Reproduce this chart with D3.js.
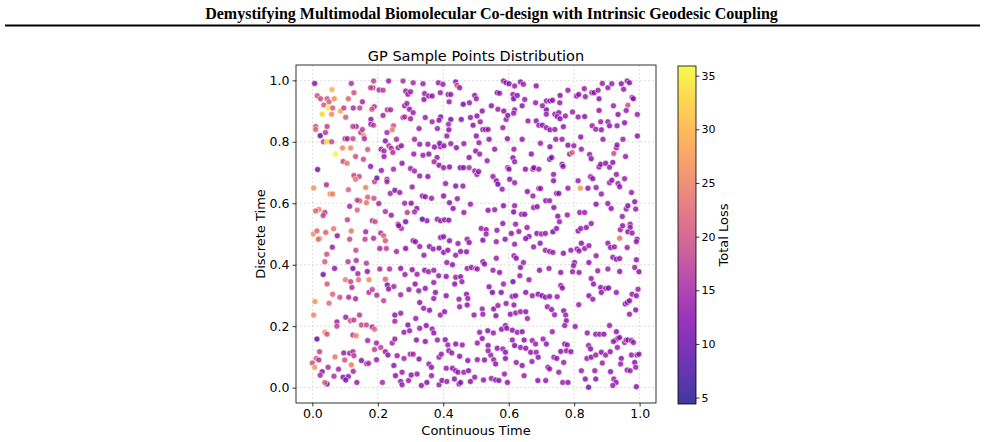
<!DOCTYPE html>
<html>
<head>
<meta charset="utf-8">
<script src="https://cdn.jsdelivr.net/npm/d3@7"></script>
<style>
  body { margin: 0; background: #fff; }
  svg { display: block; }
</style>
</head>
<body>
<div id="chart"></div>
<script>
// [continuous time, discrete time, total loss], grouped by x band
const band0 = [
  [0.007,0.99,12],[0.015,0.95,20],[0.025,0.94,19],[0.045,0.94,20],[0.051,0.93,22],[0.06,0.97,30],
  [0.067,0.94,27],[0.035,0.92,21],[0.048,0.91,35],[0.03,0.89,33],[0.059,0.89,26],[0.062,0.91,21],
  [0.086,0.90,29],[0.096,0.91,18],[0.01,0.85,20],[0.01,0.84,22],[0.045,0.85,18],[0.024,0.82,9],
  [0.034,0.80,17],[0.045,0.80,34],[0.059,0.80,19],[0.04,0.83,17],[0.071,0.76,36],[0.092,0.78,26],
  [0.10,0.81,16],[0.016,0.71,11],[0.043,0.66,16],[0.004,0.65,27],[0.054,0.63,27],[0.062,0.63,25],
  [0.02,0.58,26],[0.01,0.575,22],[0.038,0.57,17],[0.033,0.56,18],[0.003,0.50,27],[0.014,0.51,22],
  [0.022,0.485,25],[0.041,0.505,22],[0.065,0.517,24],[0.061,0.457,14],[0.076,0.494,13],[0.018,0.483,24],
  [0.044,0.434,20],[0.038,0.41,21],[0.068,0.388,13],[0.033,0.368,11],[0.045,0.337,21],[0.062,0.304,22],
  [0.084,0.294,20],[0.051,0.275,23],[0.008,0.28,27],[0.004,0.236,26],[0.075,0.214,14],[0.075,0.20,18],
  [0.038,0.18,28],[0.045,0.174,20],[0.014,0.158,9],[0.022,0.117,18],[0.012,0.095,20],[0.0,0.08,20],
  [0.007,0.066,28],[0.02,0.09,17],[0.03,0.052,13],[0.024,0.04,16],[0.048,0.066,16],[0.045,0.012,10],
  [0.038,0.017,22],[0.069,0.10,24],[0.08,0.06,15],[0.096,0.113,14],[0.094,0.034,12],[0.099,0.09,20],
  [0.066,0.037,16]
];
const band1 = [
  [0.107,0.81,15],[0.117,0.78,26],[0.102,0.88,21],[0.11,0.94,22],[0.125,0.91,16],[0.127,0.96,20],
  [0.119,0.99,16],[0.134,0.85,15],[0.124,0.85,18],[0.145,0.91,18],[0.153,0.93,15],[0.148,0.83,16],
  [0.157,0.82,27],[0.153,0.84,18],[0.169,0.775,21],[0.179,0.873,13],[0.179,0.857,12],[0.187,0.854,18],
  [0.189,0.914,16],[0.182,0.906,20],[0.187,0.998,18],[0.185,0.976,17],[0.178,0.976,18],[0.159,0.81,16],
  [0.124,0.81,19],[0.094,0.736,19],[0.106,0.73,24],[0.132,0.752,20],[0.156,0.743,19],[0.178,0.72,13],
  [0.127,0.69,18],[0.143,0.687,19],[0.132,0.678,24],[0.163,0.651,25],[0.19,0.67,18],[0.197,0.682,11],
  [0.11,0.644,22],[0.144,0.608,18],[0.137,0.61,19],[0.169,0.62,22],[0.165,0.602,24],[0.188,0.616,20],
  [0.114,0.59,15],[0.137,0.578,22],[0.107,0.546,18],[0.163,0.507,15],[0.183,0.543,17],[0.192,0.54,20],
  [0.119,0.51,24],[0.114,0.483,19],[0.161,0.483,18],[0.187,0.486,16],[0.133,0.447,19],[0.109,0.41,17],
  [0.134,0.414,16],[0.165,0.405,17],[0.124,0.388,11],[0.139,0.371,15],[0.101,0.351,25],[0.117,0.345,18],
  [0.141,0.351,23],[0.173,0.351,26],[0.168,0.378,13],[0.111,0.294,16],[0.121,0.326,16],[0.132,0.289,15],
  [0.173,0.31,16],[0.183,0.319,18],[0.197,0.301,16],[0.102,0.229,14],[0.116,0.218,20],[0.127,0.22,18],
  [0.144,0.236,17],[0.15,0.204,19],[0.165,0.204,19],[0.183,0.197,14],[0.19,0.19,23],[0.124,0.171,16],
  [0.134,0.169,26],[0.114,0.112,14],[0.124,0.117,16],[0.127,0.104,17],[0.15,0.088,12],[0.166,0.078,13],
  [0.172,0.079,17],[0.119,0.074,25],[0.125,0.053,15],[0.136,0.017,14],[0.11,0.036,13],[0.102,0.025,11],
  [0.196,0.091,14],[0.19,0.124,18],[0.169,0.153,15]
];
const band2 = [
  [0.204,0.969,15],[0.216,0.968,17],[0.233,0.998,14],[0.216,0.886,15],[0.229,0.904,17],[0.239,0.904,15],
  [0.248,0.852,20],[0.244,0.839,25],[0.228,0.83,15],[0.223,0.803,13],[0.257,0.808,15],[0.21,0.776,14],
  [0.219,0.77,15],[0.219,0.752,14],[0.234,0.787,16],[0.241,0.779,16],[0.246,0.765,16],[0.262,0.781,15],
  [0.272,0.787,13],[0.277,0.879,15],[0.282,0.881,17],[0.277,0.998,16],[0.285,0.965,14],[0.292,0.955,13],
  [0.282,0.917,14],[0.289,0.925,15],[0.297,0.906,13],[0.3,0.875,14],[0.211,0.707,14],[0.228,0.678,15],
  [0.238,0.632,15],[0.252,0.642,12],[0.267,0.635,14],[0.274,0.73,13],[0.248,0.711,15],[0.228,0.67,15],
  [0.203,0.599,15],[0.223,0.573,16],[0.241,0.561,14],[0.262,0.532,14],[0.272,0.518,15],[0.264,0.527,13],
  [0.285,0.54,11],[0.282,0.6,15],[0.29,0.57,17],[0.209,0.503,16],[0.218,0.494,22],[0.223,0.478,21],
  [0.206,0.453,15],[0.226,0.453,18],[0.257,0.443,15],[0.285,0.453,12],[0.206,0.386,15],[0.236,0.386,16],
  [0.27,0.388,13],[0.283,0.368,14],[0.223,0.353,22],[0.229,0.334,11],[0.249,0.329,15],[0.233,0.321,13],
  [0.218,0.283,18],[0.27,0.302,15],[0.295,0.319,14],[0.252,0.236,13],[0.252,0.216,15],[0.27,0.242,14],
  [0.292,0.204,13],[0.28,0.18,14],[0.297,0.185,14],[0.196,0.145,15],[0.209,0.131,18],[0.223,0.117,14],
  [0.244,0.145,15],[0.252,0.158,14],[0.231,0.106,13],[0.259,0.104,14],[0.28,0.095,15],[0.299,0.109,15],
  [0.249,0.072,13],[0.274,0.05,14],[0.254,0.039,13],[0.27,0.02,13],[0.274,0.009,14],[0.214,0.017,15],
  [0.294,0.023,14],[0.302,0.041,13]
];
const band3 = [
  [0.308,0.895,14],[0.308,0.992,15],[0.3,0.963,14],[0.338,0.989,14],[0.343,0.957,14],[0.341,0.938,13],
  [0.355,0.949,14],[0.366,0.949,13],[0.345,0.879,14],[0.366,0.865,15],[0.385,0.992,14],[0.391,0.96,14],
  [0.392,0.881,11],[0.387,0.87,13],[0.382,0.843,14],[0.326,0.843,14],[0.312,0.808,15],[0.328,0.792,14],
  [0.353,0.792,14],[0.373,0.783,13],[0.391,0.784,14],[0.389,0.795,12],[0.31,0.76,14],[0.338,0.756,14],
  [0.356,0.76,13],[0.381,0.749,14],[0.372,0.735,15],[0.387,0.724,13],[0.3,0.713,14],[0.312,0.705,15],
  [0.328,0.689,14],[0.353,0.687,13],[0.305,0.653,14],[0.302,0.6,13],[0.319,0.583,12],[0.312,0.572,16],
  [0.336,0.624,14],[0.345,0.621,13],[0.364,0.616,14],[0.35,0.543,13],[0.336,0.548,9],[0.382,0.548,13],
  [0.392,0.543,14],[0.308,0.478,13],[0.315,0.475,13],[0.328,0.459,14],[0.341,0.431,14],[0.358,0.459,13],
  [0.369,0.451,14],[0.387,0.454,13],[0.401,0.44,13],[0.305,0.384,13],[0.32,0.369,14],[0.343,0.382,13],
  [0.355,0.377,14],[0.371,0.382,14],[0.386,0.364,14],[0.314,0.337,13],[0.325,0.315,14],[0.345,0.323,13],
  [0.371,0.342,14],[0.376,0.31,13],[0.328,0.277,13],[0.34,0.258,14],[0.358,0.252,13],[0.371,0.29,14],
  [0.391,0.236,14],[0.316,0.225,14],[0.328,0.193,14],[0.348,0.202,13],[0.366,0.191,14],[0.371,0.178,13],
  [0.382,0.155,14],[0.345,0.15,13],[0.318,0.155,13],[0.308,0.109,15],[0.326,0.093,13],[0.356,0.077,14],
  [0.364,0.066,13],[0.387,0.099,14],[0.394,0.109,14],[0.32,0.044,14],[0.333,0.007,13],[0.35,0.017,12],
  [0.364,0.039,14],[0.387,0.009,14],[0.396,0.023,13]
];
const band4 = [
  [0.399,0.987,14],[0.415,0.954,13],[0.423,0.954,14],[0.418,0.93,14],[0.438,0.995,12],[0.442,0.984,20],
  [0.45,0.976,14],[0.423,0.873,11],[0.416,0.857,15],[0.417,0.839,13],[0.455,0.873,12],[0.461,0.922,11],
  [0.48,0.927,14],[0.483,0.879,14],[0.491,0.854,13],[0.496,0.951,13],[0.501,0.94,14],[0.402,0.787,13],
  [0.411,0.819,14],[0.423,0.794,14],[0.44,0.781,13],[0.463,0.794,14],[0.479,0.749,13],[0.452,0.716,11],
  [0.462,0.716,12],[0.479,0.716,16],[0.496,0.705,14],[0.401,0.716,14],[0.419,0.718,13],[0.438,0.656,13],
  [0.46,0.656,14],[0.407,0.664,14],[0.401,0.624,13],[0.419,0.602,13],[0.43,0.583,13],[0.443,0.615,14],
  [0.483,0.597,14],[0.463,0.57,14],[0.404,0.546,14],[0.417,0.545,13],[0.392,0.489,13],[0.401,0.491,13],
  [0.419,0.478,13],[0.445,0.469,14],[0.473,0.483,14],[0.479,0.472,13],[0.414,0.447,13],[0.438,0.431,14],
  [0.453,0.443,13],[0.471,0.442,13],[0.411,0.407,14],[0.428,0.4,13],[0.438,0.359,14],[0.453,0.361,13],
  [0.473,0.388,14],[0.486,0.391,13],[0.499,0.388,16],[0.409,0.362,13],[0.435,0.337,13],[0.457,0.345,14],
  [0.471,0.304,13],[0.448,0.288,14],[0.409,0.299,13],[0.475,0.29,14],[0.404,0.247,13],[0.45,0.263,14],
  [0.473,0.269,13],[0.494,0.236,14],[0.406,0.156,13],[0.414,0.139,14],[0.438,0.142,13],[0.458,0.139,14],
  [0.417,0.12,13],[0.426,0.113,14],[0.45,0.102,13],[0.475,0.088,13],[0.409,0.063,14],[0.428,0.063,13],
  [0.438,0.055,12],[0.445,0.05,14],[0.463,0.05,14],[0.477,0.055,13],[0.434,0.028,13],[0.448,0.012,13],
  [0.453,0.017,13],[0.411,0.02,14],[0.483,0.02,13],[0.496,0.034,14]
];
const band5 = [
  [0.503,0.884,13],[0.513,0.865,14],[0.519,0.9,13],[0.521,0.84,14],[0.529,0.84,13],[0.537,0.84,14],
  [0.501,0.819,13],[0.509,0.797,14],[0.499,0.77,13],[0.511,0.76,14],[0.54,0.808,13],[0.547,0.917,13],
  [0.567,0.906,14],[0.585,0.9,13],[0.592,0.873,14],[0.565,0.96,11],[0.572,0.958,14],[0.584,0.998,14],
  [0.592,0.992,13],[0.582,0.846,14],[0.596,0.81,13],[0.557,0.776,14],[0.534,0.738,14],[0.503,0.694,14],
  [0.508,0.703,13],[0.552,0.687,14],[0.562,0.673,13],[0.567,0.662,11],[0.58,0.646,14],[0.597,0.716,14],
  [0.537,0.577,13],[0.557,0.579,14],[0.584,0.592,13],[0.516,0.518,14],[0.531,0.514,13],[0.531,0.5,14],
  [0.564,0.512,14],[0.582,0.534,13],[0.521,0.48,12],[0.562,0.475,14],[0.589,0.483,13],[0.504,0.386,15],
  [0.521,0.41,14],[0.526,0.402,13],[0.552,0.382,14],[0.562,0.421,14],[0.572,0.375,13],[0.584,0.337,14],
  [0.54,0.328,13],[0.55,0.31,11],[0.577,0.31,12],[0.592,0.274,14],[0.519,0.256,14],[0.554,0.256,13],
  [0.567,0.267,14],[0.521,0.239,14],[0.561,0.234,13],[0.511,0.18,14],[0.536,0.185,13],[0.553,0.178,14],
  [0.578,0.19,13],[0.59,0.202,14],[0.594,0.193,13],[0.504,0.145,14],[0.519,0.16,13],[0.537,0.137,13],
  [0.545,0.106,14],[0.537,0.12,14],[0.565,0.128,13],[0.582,0.126,14],[0.59,0.115,13],[0.504,0.091,14],
  [0.526,0.09,13],[0.554,0.091,14],[0.56,0.077,13],[0.59,0.095,13],[0.523,0.025,13],[0.547,0.03,14],
  [0.56,0.025,12],[0.57,0.023,13],[0.587,0.044,14],[0.596,0.017,13]
];
const band6 = [
  [0.601,0.989,13],[0.618,0.982,14],[0.636,0.995,13],[0.645,0.987,14],[0.613,0.954,14],[0.615,0.94,11],
  [0.626,0.951,13],[0.649,0.938,14],[0.641,0.917,13],[0.618,0.904,14],[0.615,0.893,14],[0.597,0.886,13],
  [0.659,0.868,14],[0.616,0.776,14],[0.641,0.808,13],[0.613,0.748,13],[0.618,0.735,14],[0.601,0.711,14],
  [0.651,0.711,13],[0.674,0.711,14],[0.669,0.76,13],[0.684,0.868,13],[0.692,0.854,14],[0.682,0.927,14],
  [0.684,0.982,13],[0.603,0.678,13],[0.618,0.667,14],[0.657,0.638,13],[0.674,0.624,14],[0.692,0.648,13],
  [0.618,0.592,14],[0.615,0.572,11],[0.639,0.564,14],[0.649,0.564,13],[0.676,0.586,14],[0.687,0.589,13],
  [0.621,0.532,14],[0.608,0.502,13],[0.631,0.508,14],[0.656,0.521,14],[0.662,0.492,13],[0.652,0.485,12],
  [0.686,0.502,13],[0.618,0.467,14],[0.676,0.458,14],[0.616,0.429,14],[0.623,0.421,13],[0.645,0.407,14],
  [0.636,0.391,13],[0.613,0.345,11],[0.634,0.364,14],[0.662,0.351,14],[0.694,0.382,13],[0.611,0.297,14],
  [0.621,0.299,13],[0.652,0.31,13],[0.672,0.299,14],[0.69,0.304,13],[0.616,0.269,14],[0.605,0.239,13],
  [0.621,0.243,14],[0.636,0.247,14],[0.652,0.247,13],[0.657,0.225,14],[0.611,0.187,13],[0.626,0.18,14],
  [0.641,0.182,13],[0.672,0.153,14],[0.611,0.155,14],[0.647,0.155,13],[0.618,0.137,11],[0.636,0.131,14],
  [0.652,0.128,13],[0.682,0.142,14],[0.667,0.115,13],[0.684,0.115,14],[0.69,0.099,13],[0.623,0.082,14],
  [0.641,0.072,13],[0.671,0.085,14],[0.647,0.039,14],[0.689,0.023,13]
];
const band7 = [
  [0.715,0.933,14],[0.726,0.933,13],[0.715,0.904,11],[0.715,0.89,14],[0.703,0.917,14],[0.734,0.935,13],
  [0.741,0.89,14],[0.753,0.895,13],[0.748,0.882,14],[0.757,0.875,13],[0.756,0.927,14],[0.757,0.951,13],
  [0.781,0.968,14],[0.773,0.884,14],[0.703,0.854,13],[0.715,0.846,14],[0.726,0.839,13],[0.741,0.84,14],
  [0.767,0.849,13],[0.795,0.897,14],[0.697,0.795,14],[0.726,0.784,13],[0.744,0.808,14],[0.763,0.808,14],
  [0.781,0.789,13],[0.725,0.743,13],[0.731,0.749,11],[0.763,0.727,14],[0.766,0.72,13],[0.786,0.76,14],
  [0.794,0.765,22],[0.677,0.716,13],[0.692,0.711,14],[0.737,0.694,14],[0.737,0.673,13],[0.746,0.632,14],
  [0.753,0.632,13],[0.697,0.648,14],[0.781,0.649,14],[0.713,0.608,13],[0.725,0.608,14],[0.738,0.586,13],
  [0.779,0.562,14],[0.75,0.558,13],[0.755,0.54,14],[0.735,0.507,11],[0.746,0.518,13],[0.7,0.5,14],
  [0.712,0.502,14],[0.696,0.47,13],[0.712,0.447,14],[0.725,0.443,13],[0.735,0.44,14],[0.767,0.437,13],
  [0.79,0.447,14],[0.723,0.388,14],[0.759,0.375,13],[0.795,0.377,14],[0.759,0.332,14],[0.764,0.324,13],
  [0.702,0.299,11],[0.712,0.294,14],[0.725,0.297,13],[0.748,0.296,14],[0.718,0.263,14],[0.731,0.254,13],
  [0.74,0.237,14],[0.768,0.25,13],[0.774,0.236,14],[0.776,0.218,13],[0.771,0.202,14],[0.705,0.158,14],
  [0.715,0.142,13],[0.733,0.182,14],[0.771,0.142,13],[0.779,0.139,14],[0.759,0.118,13],[0.776,0.12,14],
  [0.79,0.117,13],[0.738,0.099,14],[0.747,0.095,13],[0.768,0.082,14],[0.72,0.066,12],[0.725,0.061,14],
  [0.753,0.05,14],[0.713,0.023,13],[0.765,0.017,14],[0.781,0.017,13]
];
const band8 = [
  [0.807,0.949,14],[0.814,0.954,13],[0.834,0.947,14],[0.831,0.973,14],[0.854,0.96,14],[0.861,0.96,13],
  [0.873,0.968,14],[0.876,0.94,13],[0.886,0.99,14],[0.812,0.881,14],[0.832,0.882,13],[0.855,0.852,14],
  [0.876,0.902,13],[0.881,0.865,14],[0.883,0.839,13],[0.866,0.841,14],[0.799,0.787,14],[0.82,0.816,13],
  [0.822,0.776,14],[0.847,0.759,14],[0.852,0.745,13],[0.876,0.718,14],[0.881,0.727,13],[0.888,0.808,14],
  [0.896,0.73,13],[0.812,0.673,14],[0.819,0.649,28],[0.842,0.649,13],[0.85,0.686,14],[0.857,0.68,13],
  [0.867,0.651,14],[0.883,0.63,14],[0.867,0.597,13],[0.817,0.57,14],[0.832,0.57,14],[0.812,0.51,13],
  [0.82,0.518,14],[0.837,0.521,13],[0.852,0.534,14],[0.809,0.451,13],[0.815,0.445,14],[0.822,0.47,13],
  [0.832,0.453,14],[0.845,0.462,14],[0.801,0.407,13],[0.798,0.397,14],[0.815,0.375,14],[0.845,0.407,13],
  [0.867,0.429,14],[0.852,0.355,14],[0.859,0.337,13],[0.872,0.38,14],[0.881,0.326,13],[0.896,0.323,14],
  [0.814,0.27,14],[0.845,0.299,13],[0.857,0.288,14],[0.883,0.31,13],[0.803,0.199,14],[0.84,0.178,14],
  [0.866,0.174,13],[0.878,0.174,14],[0.891,0.174,13],[0.844,0.137,14],[0.85,0.126,13],[0.839,0.095,14],
  [0.852,0.099,13],[0.866,0.106,14],[0.883,0.115,13],[0.822,0.055,14],[0.863,0.055,14],[0.834,0.028,13],
  [0.844,0.001,11],[0.866,0.028,13],[0.886,0.08,14]
];
const band9 = [
  [0.903,0.976,14],[0.915,0.989,14],[0.944,0.989,13],[0.951,0.971,14],[0.962,0.998,14],[0.969,0.992,13],
  [0.977,0.944,14],[0.981,0.94,13],[0.964,0.919,20],[0.959,0.902,14],[0.934,0.889,13],[0.92,0.917,14],
  [0.903,0.865,14],[0.908,0.852,13],[0.931,0.852,14],[0.954,0.862,13],[0.993,0.889,14],[0.949,0.808,14],
  [0.929,0.781,13],[0.921,0.762,20],[0.931,0.79,14],[0.957,0.752,14],[0.993,0.819,13],[0.908,0.717,14],
  [0.918,0.733,13],[0.929,0.694,14],[0.908,0.667,14],[0.915,0.675,13],[0.934,0.664,14],[0.939,0.654,13],
  [0.954,0.68,14],[0.975,0.635,14],[0.985,0.605,13],[0.988,0.581,14],[0.959,0.581,14],[0.964,0.592,13],
  [0.903,0.599,14],[0.913,0.583,13],[0.947,0.557,14],[0.971,0.532,14],[0.971,0.521,13],[0.941,0.514,14],
  [0.948,0.527,13],[0.964,0.507,13],[0.977,0.503,14],[0.939,0.486,24],[0.903,0.47,14],[0.911,0.456,13],
  [0.923,0.458,14],[0.962,0.456,14],[0.992,0.483,13],[0.99,0.475,14],[0.918,0.424,14],[0.929,0.418,13],
  [0.939,0.42,14],[0.99,0.416,13],[0.985,0.391,14],[0.998,0.377,13],[0.903,0.386,14],[0.939,0.378,13],
  [0.905,0.324,11],[0.929,0.31,14],[0.956,0.272,13],[0.962,0.277,14],[0.969,0.283,13],[0.977,0.304,14],
  [0.99,0.299,13],[0.995,0.32,14],[0.969,0.239,14],[0.988,0.253,13],[0.908,0.202,14],[0.929,0.182,13],
  [0.927,0.155,14],[0.934,0.161,13],[0.939,0.163,14],[0.954,0.147,14],[0.959,0.155,13],[0.964,0.155,14],
  [0.975,0.153,13],[0.981,0.147,14],[0.92,0.15,14],[0.896,0.106,14],[0.91,0.117,13],[0.932,0.131,14],
  [0.944,0.095,13],[0.975,0.106,14],[0.992,0.106,13],[0.998,0.109,14],[0.985,0.082,13],[0.988,0.066,14],
  [0.942,0.077,14],[0.911,0.052,13],[0.921,0.028,14],[0.928,0.017,13],[0.918,0.007,14],[0.962,0.057,13],
  [0.971,0.055,14],[0.99,0.003,13]
];

const xTicks = [0, 0.2, 0.4, 0.6, 0.8, 1.0];
const yTicks = [0, 0.2, 0.4, 0.6, 0.8, 1.0];
const lossTicks = [5, 10, 15, 20, 25, 30, 35];
const lossRange = [4.4, 35.9];

const pageTitle = "Demystifying Multimodal Biomolecular Co-design with Intrinsic Geodesic Coupling";
const chartTitle = "GP Sample Points Distribution";

const samples = [].concat(band0, band1, band2, band3, band4, band5, band6, band7, band8, band9);

const W = 985, H = 442;
const plot = { left: 296, right: 656, top: 65, bottom: 403 };
const cbar = { left: 678, right: 696, top: 66, bottom: 404 };

const svg = d3.select("#chart").append("svg")
    .attr("width", W)
    .attr("height", H)
    .style("font-family", "'DejaVu Sans', sans-serif");

// page header
svg.append("text")
    .attr("x", W / 2 - 1)
    .attr("y", 19)
    .attr("text-anchor", "middle")
    .style("font-family", "'Liberation Serif', 'Times New Roman', serif")
    .style("font-weight", "bold")
    .style("font-size", "16px")
    .text(pageTitle);

svg.append("line")
    .attr("x1", 5).attr("x2", 980)
    .attr("y1", 25.5).attr("y2", 25.5)
    .attr("stroke", "#000")
    .attr("stroke-width", 2);

const x = d3.scaleLinear().domain([-0.05, 1.05]).range([plot.left, plot.right]);
const y = d3.scaleLinear().domain([-0.05, 1.05]).range([plot.bottom, plot.top]);
const color = d3.scaleSequential(d3.interpolatePlasma).domain(lossRange);

// grid
const grid = svg.append("g");
grid.selectAll(".gx").data(xTicks).join("line")
    .attr("x1", d => x(d)).attr("x2", d => x(d))
    .attr("y1", plot.top).attr("y2", plot.bottom)
    .attr("stroke", "#b0b0b0").attr("stroke-width", 0.6)
    .attr("stroke-dasharray", "2,2").attr("opacity", 0.7);
grid.selectAll(".gy").data(yTicks).join("line")
    .attr("y1", d => y(d)).attr("y2", d => y(d))
    .attr("x1", plot.left).attr("x2", plot.right)
    .attr("stroke", "#b0b0b0").attr("stroke-width", 0.6)
    .attr("stroke-dasharray", "2,2").attr("opacity", 0.7);

// points
svg.append("g").selectAll("circle")
    .data(samples)
    .join("circle")
    .attr("cx", d => x(d[0]))
    .attr("cy", d => y(d[1]))
    .attr("r", 3)
    .attr("fill", d => color(d[2]))
    .attr("fill-opacity", 0.8)
    .attr("stroke", "#fff")
    .attr("stroke-opacity", 0.8)
    .attr("stroke-width", 0.7);

// axes
const xAxis = svg.append("g")
    .attr("transform", `translate(0,${plot.bottom})`)
    .call(d3.axisBottom(x).tickValues(xTicks).tickFormat(d3.format(".1f")).tickSize(3.5).tickPadding(3));
const yAxis = svg.append("g")
    .attr("transform", `translate(${plot.left},0)`)
    .call(d3.axisLeft(y).tickValues(yTicks).tickFormat(d3.format(".1f")).tickSize(3.5).tickPadding(3));
[xAxis, yAxis].forEach(g => {
    g.select(".domain").remove();
    g.selectAll("text").style("font-size", "12.5px").attr("fill", "#000")
        .style("font-family", "'DejaVu Sans', sans-serif");
    g.selectAll("line").attr("stroke", "#000").attr("stroke-width", 0.8);
});

svg.append("rect")
    .attr("x", plot.left).attr("y", plot.top)
    .attr("width", plot.right - plot.left)
    .attr("height", plot.bottom - plot.top)
    .attr("fill", "none")
    .attr("stroke", "#000")
    .attr("stroke-width", 0.8);

svg.append("text")
    .attr("x", (plot.left + plot.right) / 2)
    .attr("y", 61)
    .attr("text-anchor", "middle")
    .style("font-size", "14.5px")
    .text(chartTitle);

svg.append("text")
    .attr("x", (plot.left + plot.right) / 2)
    .attr("y", 435)
    .attr("text-anchor", "middle")
    .style("font-size", "13px")
    .text("Continuous Time");

svg.append("text")
    .attr("transform", `translate(265,${(plot.top + plot.bottom) / 2}) rotate(-90)`)
    .attr("text-anchor", "middle")
    .style("font-size", "13px")
    .text("Discrete Time");

// colorbar
const defs = svg.append("defs");
const grad = defs.append("linearGradient")
    .attr("id", "plasma-grad")
    .attr("x1", "0").attr("y1", "1").attr("x2", "0").attr("y2", "0");
d3.range(0, 1.0001, 0.05).forEach(t => {
    grad.append("stop")
        .attr("offset", t)
        .attr("stop-color", d3.interpolatePlasma(t))
        .attr("stop-opacity", 0.8);
});

svg.append("rect")
    .attr("x", cbar.left).attr("y", cbar.top)
    .attr("width", cbar.right - cbar.left)
    .attr("height", cbar.bottom - cbar.top)
    .attr("fill", "url(#plasma-grad)")
    .attr("stroke", "#000")
    .attr("stroke-width", 0.8);

const cy = d3.scaleLinear().domain(lossRange).range([cbar.bottom, cbar.top]);
const cAxis = svg.append("g")
    .attr("transform", `translate(${cbar.right},0)`)
    .call(d3.axisRight(cy).tickValues(lossTicks).tickSize(3.5).tickPadding(2));
cAxis.select(".domain").remove();
cAxis.selectAll("text").style("font-size", "11px").attr("fill", "#000")
    .style("font-family", "'DejaVu Sans', sans-serif");
cAxis.selectAll("line").attr("stroke", "#000").attr("stroke-width", 0.8);

svg.append("text")
    .attr("transform", `translate(728,${(cbar.top + cbar.bottom) / 2}) rotate(-90)`)
    .attr("text-anchor", "middle")
    .style("font-size", "13px")
    .text("Total Loss");
</script>
</body>
</html>
